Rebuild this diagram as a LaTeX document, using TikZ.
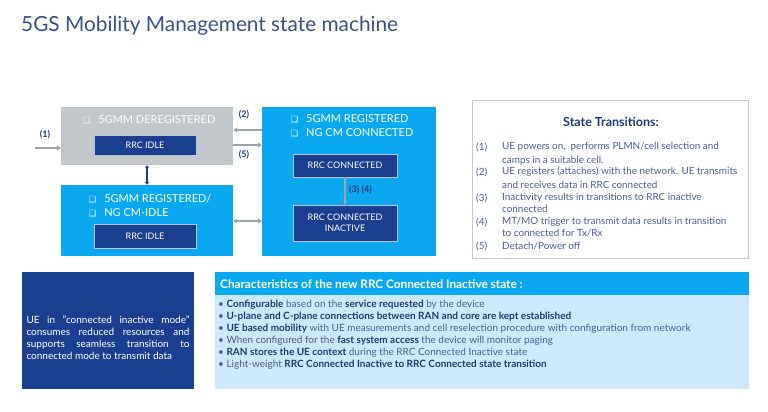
\documentclass[tikz,border=0pt]{standalone}
\usepackage{fontspec}
\setmainfont{Lato}
\newfontfamily\symfont{DejaVu Sans}
\usetikzlibrary{arrows.meta}
\definecolor{cyanbox}{HTML}{0AA8EE}
\definecolor{navy}{HTML}{193F8E}
\definecolor{greybox}{HTML}{C2C7CC}
\definecolor{paleblue}{HTML}{CDE8FA}
\definecolor{titlecol}{HTML}{3A5285}
\definecolor{bodytext}{HTML}{4B5E92}
\definecolor{strongtext}{HTML}{1E3A7A}
\definecolor{arrowgrey}{HTML}{9EA3A9}
\newcommand{\sqb}{{\symfont\fontsize{8.5}{12}\selectfont\char"2751}\hspace{8pt}}
\tikzset{
  statebox/.style={draw=none, inner sep=0pt, anchor=center},
  rrcbox/.style={draw=white!70!navy, line width=0.6pt, fill=navy, text=white, inner sep=0pt, anchor=center, font=\fontsize{9}{11}\selectfont, align=center},
  boxtitle/.style={text=white, font=\fontsize{11}{14}\selectfont, align=left, inner sep=0pt},
  greyarrow/.style={draw=arrowgrey, line width=1.6pt, -{Triangle[length=4pt,width=5pt]}},
  greydbl/.style={draw=arrowgrey, line width=1.6pt, {Triangle[length=4pt,width=5pt]}-{Triangle[length=4pt,width=5pt]}},
  arrowlabel/.style={text=strongtext, font=\bfseries\fontsize{9}{10}\selectfont, inner sep=0pt},
  listtext/.style={text=bodytext, font=\fontsize{9.9}{11}\selectfont, inner sep=0pt, anchor=west},
  bullet/.style={text=bodytext, font=\fontsize{10}{11}\selectfont, inner sep=0pt, anchor=west},
}
\begin{document}
\begin{tikzpicture}[x=1pt,y=-1pt]
\useasboundingbox[fill=white] (0,0) rectangle (768,412);

% heading
\node[anchor=west, text=titlecol, font=\fontsize{20.8}{24}\selectfont, inner sep=0pt] (title) at (21,26) {5GS Mobility Management state machine};

% state boxes
\node[statebox, fill=greybox, minimum width=172pt, minimum height=58pt] (dereg) at (147,136) {};
\node[boxtitle, text=white!92!greybox, anchor=center] (deregt) at (149,120) {\sqb 5GMM DEREGISTERED};
\node[rrcbox, minimum width=102pt, minimum height=20pt] (idleA) at (145,145) {RRC IDLE};

\node[statebox, fill=cyanbox, minimum width=172pt, minimum height=71pt] (idle) at (147,220.5) {};
\node[boxtitle, anchor=center] (idlet) at (150,206) {\sqb 5GMM REGISTERED/\\\sqb NG CM-IDLE};
\node[rrcbox, minimum width=102pt, minimum height=24pt] (idleB) at (145,236) {RRC IDLE};

\node[statebox, fill=cyanbox, minimum width=174pt, minimum height=149pt] (conn) at (349,181.5) {};
\node[boxtitle, anchor=center] (connt) at (352,126) {\sqb 5GMM REGISTERED\\\sqb NG CM CONNECTED};
\node[rrcbox, minimum width=104pt, minimum height=23pt] (rrcc) at (345,165.5) {RRC CONNECTED};
\node[rrcbox, minimum width=104pt, minimum height=36pt] (rrci) at (345,223) {RRC CONNECTED\\INACTIVE};

% transitions
\coordinate (start) at (35,148);
\draw[greyarrow] (start) -- (dereg.west |- start);
\node[arrowlabel] (l1) at (45,135) {(1)};

\draw[greyarrow] ([yshift=-9pt]dereg.east) -- ([yshift=-9pt]dereg.east -| conn.west);
\node[arrowlabel] (l2) at (244,115) {(2)};
\draw[greyarrow] ([yshift=6pt]dereg.east -| conn.west) -- ([yshift=6pt]dereg.east);
\node[arrowlabel] (l5) at (244,155) {(5)};

\draw[draw=navy, line width=1.2pt, {Triangle[length=3pt,width=4pt]}-{Triangle[length=3pt,width=4pt]}] (dereg.south) -- (idle.north);

\draw[greydbl] ([yshift=-0.5pt]idle.east) -- ([yshift=-0.5pt]idle.east -| conn.west);

\draw[draw=arrowgrey, line width=1.2pt, -{Triangle[length=3pt,width=3.5pt]}] (rrcc.south) -- (rrci.north);
\node[arrowlabel, anchor=west] (l34) at (349,190) {(3) (4)};

% legend of transitions
\node[draw=black!22, line width=0.8pt, fill=white, minimum width=276pt, minimum height=158pt, inner sep=0pt] (legend) at (610,179) {};
\node[text=strongtext, font=\bfseries\fontsize{12.5}{14}\selectfont, inner sep=0pt] (legendt) at (611,122) {State Transitions:};
\foreach \n/\y in {1/147,2/172,3/198,4/222,5/246}
  \node[listtext] (n\n) at (476,\y) {(\n)};
\node[listtext] (t1a) at (502,147) {UE powers on,\ \ performs PLMN/cell selection and};
\node[listtext] (t1b) at (502,161) {camps in a suitable cell.};
\node[listtext] (t2a) at (502,172) {UE registers (attaches) with the network. UE transmits};
\node[listtext] (t2b) at (502,185) {and receives data in RRC connected};
\node[listtext] (t3a) at (502,198) {Inactivity results in transitions to RRC inactive};
\node[listtext] (t3b) at (502,209) {connected};
\node[listtext] (t4a) at (502,222) {MT/MO trigger to transmit data results in transition};
\node[listtext] (t4b) at (502,233) {to connected for Tx/Rx};
\node[listtext] (t5a) at (502,246) {Detach/Power off};

% note on the inactive mode
\node[fill=navy, minimum width=172pt, minimum height=117pt, inner sep=0pt] (note) at (108,330.5) {};
\node[text=white, text width=163pt, align=justify, font=\fontsize{10}{12}\selectfont, inner sep=0pt] (notet) at (108,338) {UE in "connected inactive mode" \linebreak consumes reduced resources and \linebreak supports seamless transition to \linebreak connected mode to transmit data};

% characteristics panel
\node[fill=paleblue, minimum width=534pt, minimum height=117pt, inner sep=0pt] (chars) at (482,330.5) {};
\node[fill=cyanbox, minimum width=534pt, minimum height=23pt, inner sep=0pt] (charsh) at (482,283.5) {};
\node[anchor=west, text=white, font=\bfseries\fontsize{11.8}{13}\selectfont, inner sep=0pt] (charst) at (220,284) {Characteristics of the new RRC Connected Inactive state :};
\node[bullet] (b1) at (218,305) {• \textcolor{strongtext}{\bfseries Configurable} based on the \textcolor{strongtext}{\bfseries service requested} by the device};
\node[bullet] (b2) at (218,317) {• \textcolor{strongtext}{\bfseries U-plane and C-plane connections between RAN and core are kept established}};
\node[bullet] (b3) at (218,329) {• \textcolor{strongtext}{\bfseries UE based mobility} with UE measurements and cell reselection procedure with configuration from network};
\node[bullet] (b4) at (218,341) {• When configured for the \textcolor{strongtext}{\bfseries fast system access} the device will monitor paging};
\node[bullet] (b5) at (218,353) {• \textcolor{strongtext}{\bfseries RAN stores the UE context} during the RRC Connected Inactive state};
\node[bullet] (b6) at (218,365) {• Light-weight \textcolor{strongtext}{\bfseries RRC Connected Inactive to RRC Connected state transition}};
\end{tikzpicture}
\end{document}
